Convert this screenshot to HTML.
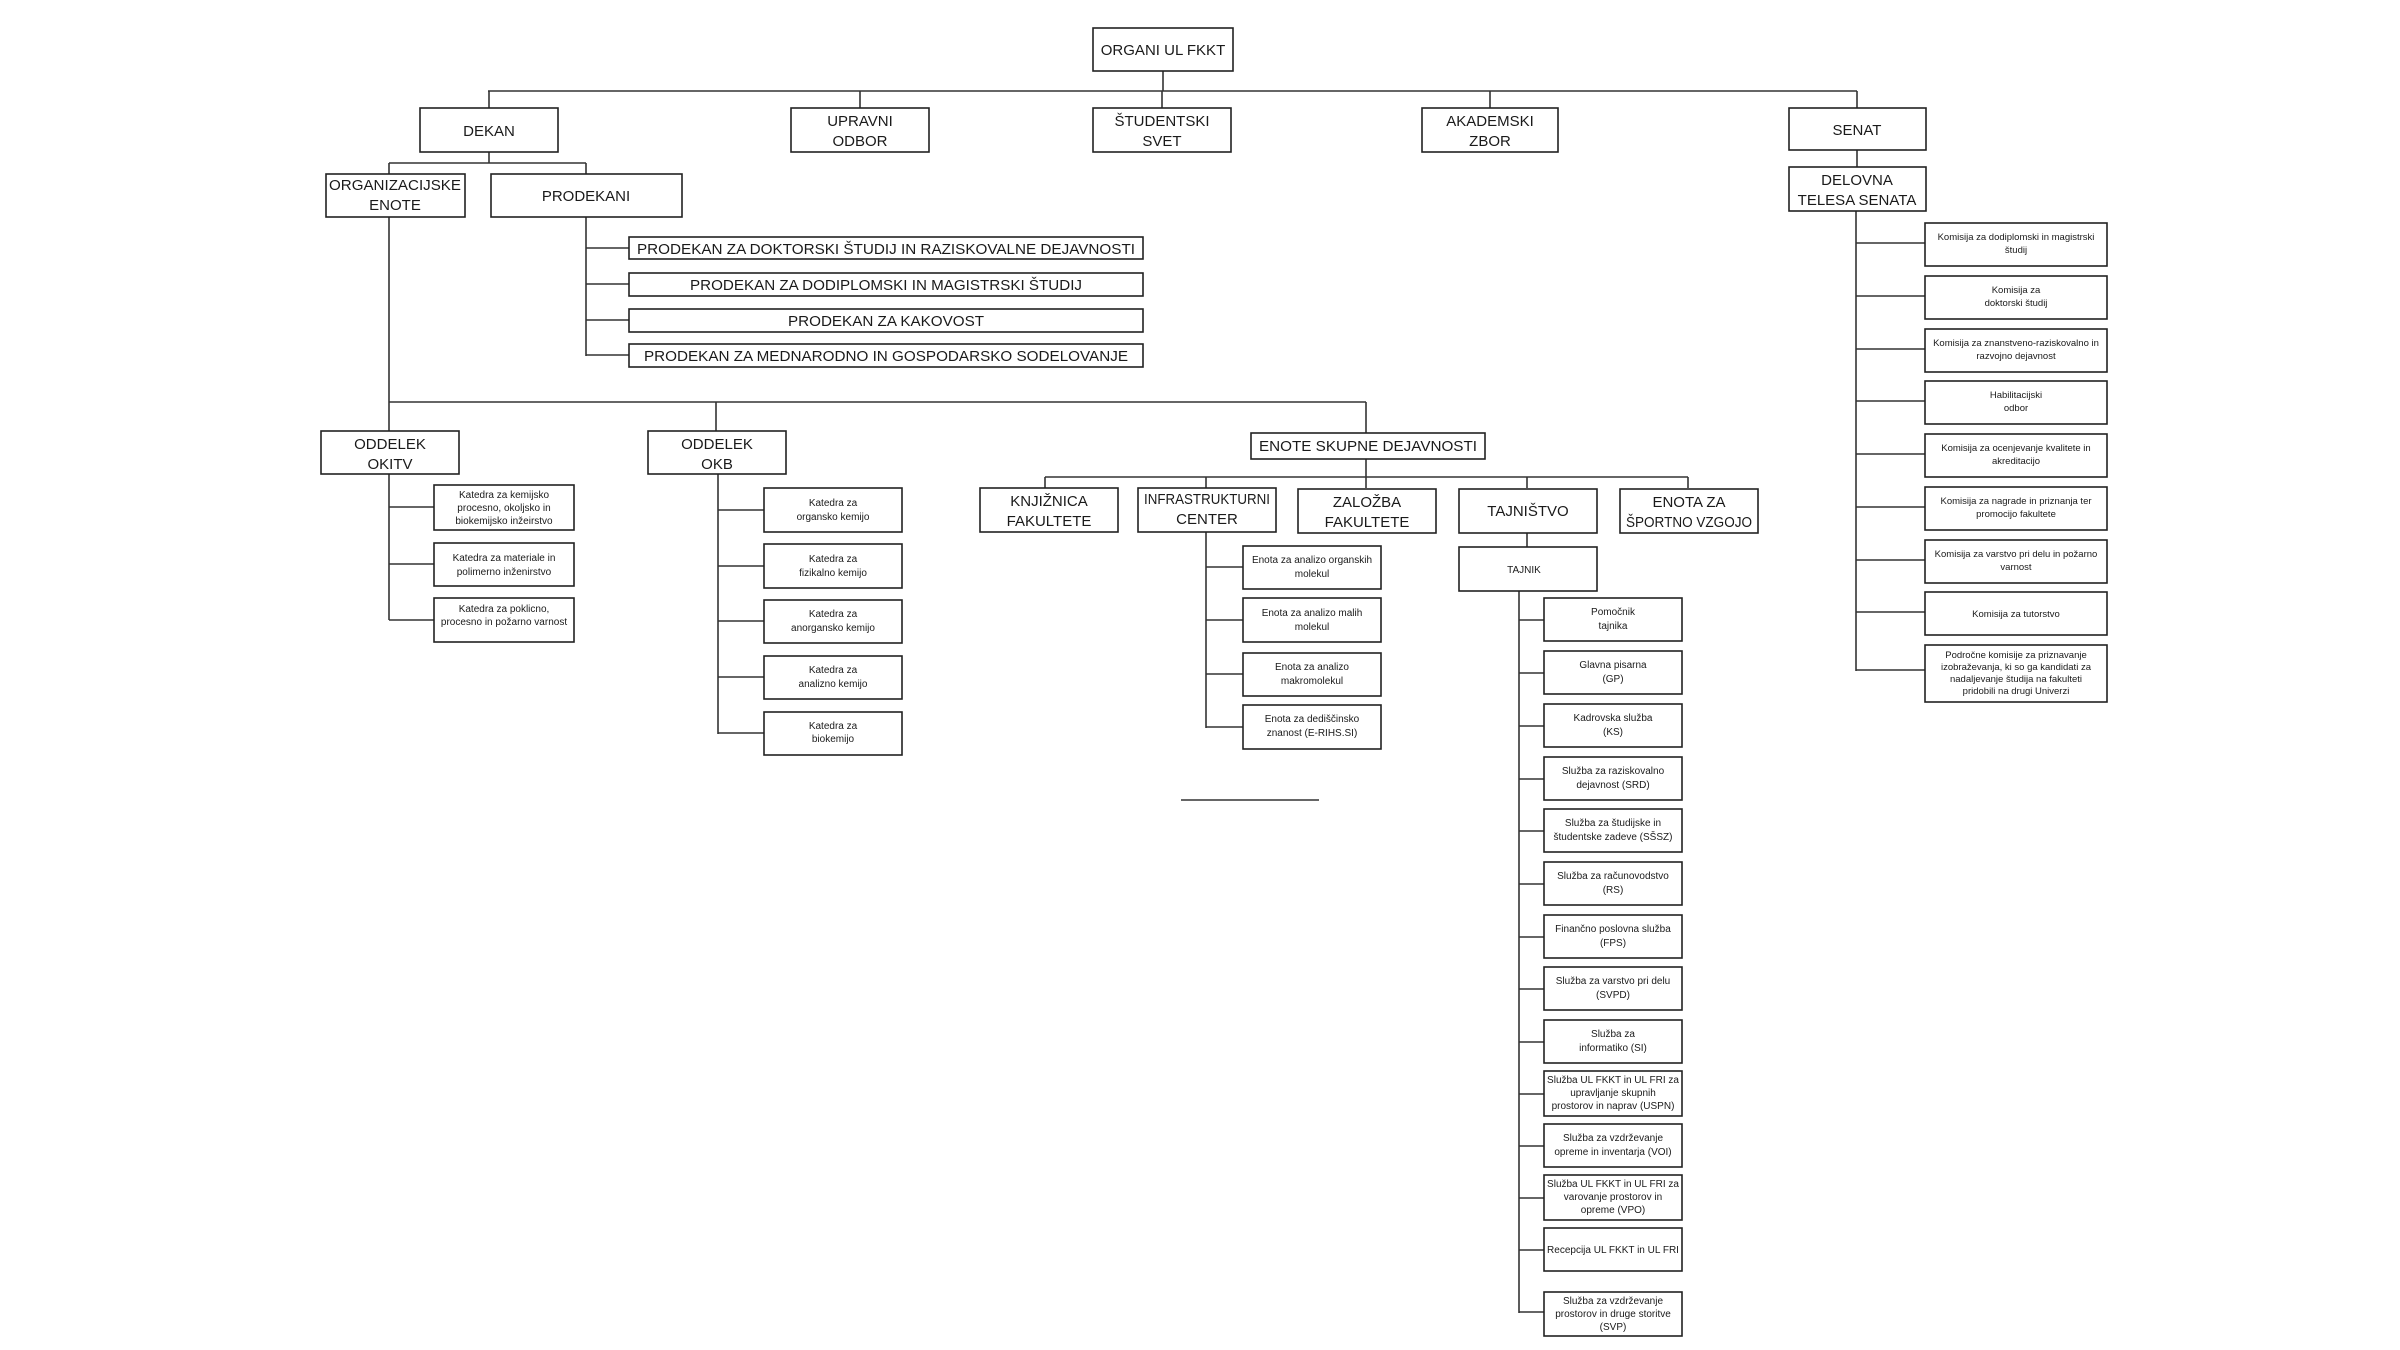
<!DOCTYPE html>
<html><head><meta charset="utf-8">
<style>
html,body{margin:0;padding:0;background:#fff;}
svg{display:block;}
text{font-family:"Liberation Sans",sans-serif;fill:#1a1a1a;text-anchor:middle;}
.b{font-size:15px;}
.s{font-size:10px;}
.k{font-size:9.5px;}
rect{fill:#fff;stroke:#222;stroke-width:1.6;}
line,path{stroke:#333;stroke-width:1.6;fill:none;}
</style></head>
<body>
<svg width="2400" height="1350" viewBox="0 0 2400 1350" xmlns="http://www.w3.org/2000/svg">
<line x1="1163" y1="71" x2="1163" y2="91"/>
<line x1="488" y1="91" x2="1857" y2="91"/>
<line x1="489" y1="91" x2="489" y2="108"/>
<line x1="860" y1="91" x2="860" y2="108"/>
<line x1="1162" y1="91" x2="1162" y2="108"/>
<line x1="1490" y1="91" x2="1490" y2="108"/>
<line x1="1857" y1="91" x2="1857" y2="108"/>
<line x1="489" y1="152" x2="489" y2="163"/>
<line x1="389" y1="163" x2="586" y2="163"/>
<line x1="389" y1="163" x2="389" y2="174"/>
<line x1="586" y1="163" x2="586" y2="174"/>
<line x1="586" y1="217" x2="586" y2="356"/>
<line x1="586" y1="248" x2="629" y2="248"/>
<line x1="586" y1="284" x2="629" y2="284"/>
<line x1="586" y1="320" x2="629" y2="320"/>
<line x1="586" y1="355" x2="629" y2="355"/>
<line x1="389" y1="217" x2="389" y2="431"/>
<line x1="389" y1="402" x2="1366" y2="402"/>
<line x1="716" y1="402" x2="716" y2="431"/>
<line x1="1366" y1="402" x2="1366" y2="433"/>
<line x1="389" y1="474" x2="389" y2="620"/>
<line x1="389" y1="507" x2="434" y2="507"/>
<line x1="389" y1="564" x2="434" y2="564"/>
<line x1="389" y1="620" x2="434" y2="620"/>
<line x1="718" y1="474" x2="718" y2="734"/>
<line x1="718" y1="510" x2="764" y2="510"/>
<line x1="718" y1="566" x2="764" y2="566"/>
<line x1="718" y1="621" x2="764" y2="621"/>
<line x1="718" y1="677" x2="764" y2="677"/>
<line x1="718" y1="733" x2="764" y2="733"/>
<line x1="1366" y1="459" x2="1366" y2="477"/>
<line x1="1045" y1="477" x2="1688" y2="477"/>
<line x1="1045" y1="477" x2="1045" y2="488"/>
<line x1="1206" y1="477" x2="1206" y2="488"/>
<line x1="1366" y1="477" x2="1366" y2="488"/>
<line x1="1527" y1="477" x2="1527" y2="488"/>
<line x1="1688" y1="477" x2="1688" y2="488"/>
<line x1="1206" y1="532" x2="1206" y2="728"/>
<line x1="1206" y1="567" x2="1243" y2="567"/>
<line x1="1206" y1="620" x2="1243" y2="620"/>
<line x1="1206" y1="674" x2="1243" y2="674"/>
<line x1="1206" y1="727" x2="1243" y2="727"/>
<line x1="1181" y1="800" x2="1319" y2="800"/>
<line x1="1527" y1="532" x2="1527" y2="547"/>
<line x1="1519" y1="591" x2="1519" y2="1313"/>
<line x1="1519" y1="620" x2="1544" y2="620"/>
<line x1="1519" y1="673" x2="1544" y2="673"/>
<line x1="1519" y1="726" x2="1544" y2="726"/>
<line x1="1519" y1="779" x2="1544" y2="779"/>
<line x1="1519" y1="831" x2="1544" y2="831"/>
<line x1="1519" y1="884" x2="1544" y2="884"/>
<line x1="1519" y1="937" x2="1544" y2="937"/>
<line x1="1519" y1="989" x2="1544" y2="989"/>
<line x1="1519" y1="1042" x2="1544" y2="1042"/>
<line x1="1519" y1="1094" x2="1544" y2="1094"/>
<line x1="1519" y1="1146" x2="1544" y2="1146"/>
<line x1="1519" y1="1198" x2="1544" y2="1198"/>
<line x1="1519" y1="1250" x2="1544" y2="1250"/>
<line x1="1519" y1="1312" x2="1544" y2="1312"/>
<line x1="1857" y1="150" x2="1857" y2="167"/>
<line x1="1856" y1="211" x2="1856" y2="671"/>
<line x1="1856" y1="243" x2="1925" y2="243"/>
<line x1="1856" y1="296" x2="1925" y2="296"/>
<line x1="1856" y1="349" x2="1925" y2="349"/>
<line x1="1856" y1="401" x2="1925" y2="401"/>
<line x1="1856" y1="454" x2="1925" y2="454"/>
<line x1="1856" y1="507" x2="1925" y2="507"/>
<line x1="1856" y1="560" x2="1925" y2="560"/>
<line x1="1856" y1="612" x2="1925" y2="612"/>
<line x1="1856" y1="670" x2="1925" y2="670"/>

<rect x="1093" y="28" width="140" height="43"/><text class="b" x="1163" y="55">ORGANI UL FKKT</text>
<rect x="420" y="108" width="138" height="44"/><text class="b" x="489" y="136">DEKAN</text>
<rect x="791" y="108" width="138" height="44"/><text class="b" x="860" y="126">UPRAVNI</text><text class="b" x="860" y="146">ODBOR</text>
<rect x="1093" y="108" width="138" height="44"/><text class="b" x="1162" y="126">ŠTUDENTSKI</text><text class="b" x="1162" y="146">SVET</text>
<rect x="1422" y="108" width="136" height="44"/><text class="b" x="1490" y="126">AKADEMSKI</text><text class="b" x="1490" y="146">ZBOR</text>
<rect x="1789" y="108" width="137" height="42"/><text class="b" x="1857" y="135">SENAT</text>
<rect x="1789" y="167" width="137" height="44"/><text class="b" x="1857" y="185">DELOVNA</text><text class="b" x="1857" y="205">TELESA SENATA</text>
<rect x="326" y="174" width="139" height="43"/><text class="b" x="395" y="190" textLength="132" lengthAdjust="spacingAndGlyphs">ORGANIZACIJSKE</text><text class="b" x="395" y="210">ENOTE</text>
<rect x="491" y="174" width="191" height="43"/><text class="b" x="586" y="201">PRODEKANI</text>

<rect x="629" y="237" width="514" height="22"/><text class="b" x="886" y="254" textLength="498" lengthAdjust="spacingAndGlyphs">PRODEKAN ZA DOKTORSKI ŠTUDIJ IN RAZISKOVALNE DEJAVNOSTI</text>
<rect x="629" y="273" width="514" height="23"/><text class="b" x="886" y="290" textLength="392" lengthAdjust="spacingAndGlyphs">PRODEKAN ZA DODIPLOMSKI IN MAGISTRSKI ŠTUDIJ</text>
<rect x="629" y="309" width="514" height="23"/><text class="b" x="886" y="326" textLength="196" lengthAdjust="spacingAndGlyphs">PRODEKAN ZA KAKOVOST</text>
<rect x="629" y="344" width="514" height="23"/><text class="b" x="886" y="361" textLength="484" lengthAdjust="spacingAndGlyphs">PRODEKAN ZA MEDNARODNO IN GOSPODARSKO SODELOVANJE</text>

<rect x="321" y="431" width="138" height="43"/><text class="b" x="390" y="449">ODDELEK</text><text class="b" x="390" y="469">OKITV</text>
<rect x="648" y="431" width="138" height="43"/><text class="b" x="717" y="449">ODDELEK</text><text class="b" x="717" y="469">OKB</text>
<rect x="1251" y="433" width="234" height="26"/><text class="b" x="1368" y="451" textLength="218" lengthAdjust="spacingAndGlyphs">ENOTE SKUPNE DEJAVNOSTI</text>

<rect x="980" y="488" width="138" height="44"/><text class="b" x="1049" y="506">KNJIŽNICA</text><text class="b" x="1049" y="526">FAKULTETE</text>
<rect x="1138" y="488" width="138" height="44"/><text class="b" x="1207" y="504" textLength="126" lengthAdjust="spacingAndGlyphs">INFRASTRUKTURNI</text><text class="b" x="1207" y="524">CENTER</text>
<rect x="1298" y="489" width="138" height="44"/><text class="b" x="1367" y="507">ZALOŽBA</text><text class="b" x="1367" y="527">FAKULTETE</text>
<rect x="1459" y="489" width="138" height="44"/><text class="b" x="1528" y="516">TAJNIŠTVO</text>
<rect x="1620" y="489" width="138" height="44"/><text class="b" x="1689" y="507">ENOTA ZA</text><text class="b" x="1689" y="527" textLength="126" lengthAdjust="spacingAndGlyphs">ŠPORTNO VZGOJO</text>

<rect x="434" y="485" width="140" height="45"/><text class="s" x="504" y="498">Katedra za kemijsko</text><text class="s" x="504" y="511">procesno, okoljsko in</text><text class="s" x="504" y="524">biokemijsko inžeirstvo</text>
<rect x="434" y="543" width="140" height="43"/><text class="s" x="504" y="561">Katedra za materiale in</text><text class="s" x="504" y="575">polimerno inženirstvo</text>
<rect x="434" y="598" width="140" height="44"/><text class="s" x="504" y="612">Katedra za poklicno,</text><text class="s" x="504" y="625">procesno in požarno varnost</text>

<rect x="764" y="488" width="138" height="44"/><text class="s" x="833" y="506">Katedra za</text><text class="s" x="833" y="520">organsko kemijo</text>
<rect x="764" y="544" width="138" height="44"/><text class="s" x="833" y="562">Katedra za</text><text class="s" x="833" y="576">fizikalno kemijo</text>
<rect x="764" y="600" width="138" height="43"/><text class="s" x="833" y="617">Katedra za</text><text class="s" x="833" y="631">anorgansko kemijo</text>
<rect x="764" y="656" width="138" height="43"/><text class="s" x="833" y="673">Katedra za</text><text class="s" x="833" y="687">analizno kemijo</text>
<rect x="764" y="712" width="138" height="43"/><text class="s" x="833" y="729">Katedra za</text><text class="s" x="833" y="742">biokemijo</text>

<rect x="1243" y="546" width="138" height="43"/><text class="s" x="1312" y="563">Enota za analizo organskih</text><text class="s" x="1312" y="577">molekul</text>
<rect x="1243" y="598" width="138" height="44"/><text class="s" x="1312" y="616">Enota za analizo malih</text><text class="s" x="1312" y="630">molekul</text>
<rect x="1243" y="653" width="138" height="43"/><text class="s" x="1312" y="670">Enota za analizo</text><text class="s" x="1312" y="684">makromolekul</text>
<rect x="1243" y="705" width="138" height="44"/><text class="s" x="1312" y="722">Enota za dediščinsko</text><text class="s" x="1312" y="736">znanost (E-RIHS.SI)</text>

<rect x="1459" y="547" width="138" height="44"/><text class="s" x="1524" y="573">TAJNIK</text>
<rect x="1544" y="598" width="138" height="43"/><text class="s" x="1613" y="615">Pomočnik</text><text class="s" x="1613" y="629">tajnika</text>
<rect x="1544" y="651" width="138" height="43"/><text class="s" x="1613" y="668">Glavna pisarna</text><text class="s" x="1613" y="682">(GP)</text>
<rect x="1544" y="704" width="138" height="43"/><text class="s" x="1613" y="721">Kadrovska služba</text><text class="s" x="1613" y="735">(KS)</text>
<rect x="1544" y="757" width="138" height="43"/><text class="s" x="1613" y="774">Služba za raziskovalno</text><text class="s" x="1613" y="788">dejavnost (SRD)</text>
<rect x="1544" y="809" width="138" height="43"/><text class="s" x="1613" y="826">Služba za študijske in</text><text class="s" x="1613" y="840">študentske zadeve (SŠSZ)</text>
<rect x="1544" y="862" width="138" height="43"/><text class="s" x="1613" y="879">Služba za računovodstvo</text><text class="s" x="1613" y="893">(RS)</text>
<rect x="1544" y="915" width="138" height="43"/><text class="s" x="1613" y="932">Finančno poslovna služba</text><text class="s" x="1613" y="946">(FPS)</text>
<rect x="1544" y="967" width="138" height="43"/><text class="s" x="1613" y="984">Služba za varstvo pri delu</text><text class="s" x="1613" y="998">(SVPD)</text>
<rect x="1544" y="1020" width="138" height="43"/><text class="s" x="1613" y="1037">Služba za</text><text class="s" x="1613" y="1051">informatiko (SI)</text>
<rect x="1544" y="1071" width="138" height="45"/><text class="s" x="1613" y="1083">Služba UL FKKT in UL FRI za</text><text class="s" x="1613" y="1096">upravljanje skupnih</text><text class="s" x="1613" y="1109">prostorov in naprav (USPN)</text>
<rect x="1544" y="1124" width="138" height="43"/><text class="s" x="1613" y="1141">Služba za vzdrževanje</text><text class="s" x="1613" y="1155">opreme in inventarja (VOI)</text>
<rect x="1544" y="1175" width="138" height="45"/><text class="s" x="1613" y="1187">Služba UL FKKT in UL FRI za</text><text class="s" x="1613" y="1200">varovanje prostorov in</text><text class="s" x="1613" y="1213">opreme (VPO)</text>
<rect x="1544" y="1228" width="138" height="43"/><text class="s" x="1613" y="1253">Recepcija UL FKKT in UL FRI</text>
<rect x="1544" y="1292" width="138" height="44"/><text class="s" x="1613" y="1304">Služba za vzdrževanje</text><text class="s" x="1613" y="1317">prostorov in druge storitve</text><text class="s" x="1613" y="1330">(SVP)</text>

<rect x="1925" y="223" width="182" height="43"/><text class="k" x="2016" y="240">Komisija za dodiplomski in magistrski</text><text class="k" x="2016" y="253">študij</text>
<rect x="1925" y="276" width="182" height="43"/><text class="k" x="2016" y="293">Komisija za</text><text class="k" x="2016" y="306">doktorski študij</text>
<rect x="1925" y="329" width="182" height="43"/><text class="k" x="2016" y="346">Komisija za znanstveno-raziskovalno in</text><text class="k" x="2016" y="359">razvojno dejavnost</text>
<rect x="1925" y="381" width="182" height="43"/><text class="k" x="2016" y="398">Habilitacijski</text><text class="k" x="2016" y="411">odbor</text>
<rect x="1925" y="434" width="182" height="43"/><text class="k" x="2016" y="451">Komisija za ocenjevanje kvalitete in</text><text class="k" x="2016" y="464">akreditacijo</text>
<rect x="1925" y="487" width="182" height="43"/><text class="k" x="2016" y="504">Komisija za nagrade in priznanja ter</text><text class="k" x="2016" y="517">promocijo fakultete</text>
<rect x="1925" y="540" width="182" height="43"/><text class="k" x="2016" y="557">Komisija za varstvo pri delu in požarno</text><text class="k" x="2016" y="570">varnost</text>
<rect x="1925" y="592" width="182" height="43"/><text class="k" x="2016" y="617">Komisija za tutorstvo</text>
<rect x="1925" y="645" width="182" height="57"/><text class="k" x="2016" y="658">Področne komisije za priznavanje</text><text class="k" x="2016" y="670">izobraževanja, ki so ga kandidati za</text><text class="k" x="2016" y="682">nadaljevanje študija na fakulteti</text><text class="k" x="2016" y="694">pridobili na drugi Univerzi</text>
</svg>
</body></html>
